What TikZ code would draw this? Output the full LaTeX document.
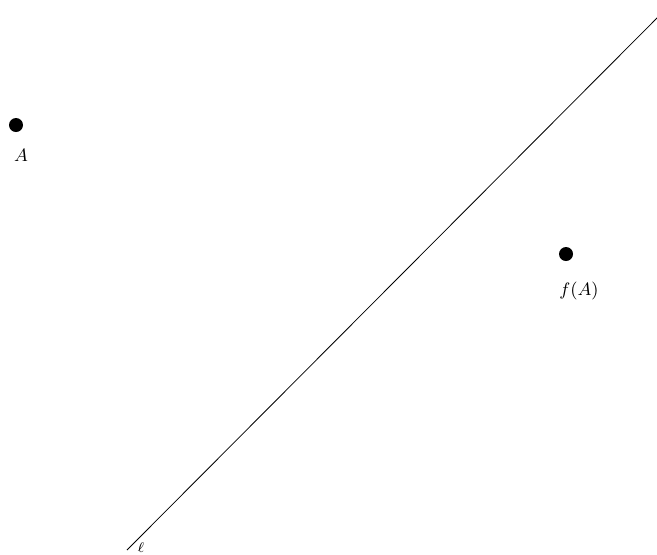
\documentclass[tikz,border=0pt]{standalone}
\begin{document}
\begin{tikzpicture}[x=0.5pt,y=-0.5pt]
 \useasboundingbox (0,0) rectangle (657,554);
 \tikzset{pt/.style={circle,fill=black,inner sep=0pt,minimum size=7pt}}
 \coordinate (l0) at (127,550); \coordinate (l1) at (663,12);
 \draw (l0)--(l1);
 \node[pt] (a) at (16,125) {}; \node[pt] (fa) at (566,254) {};
 \node[font=\small] (la) at (21,155) {$A$};
 \node[font=\small] (lfa) at (579,291) {$f(A)$};
 \node[font=\scriptsize] (ll) at (141,548) {$\ell$};
\end{tikzpicture}
\end{document}
